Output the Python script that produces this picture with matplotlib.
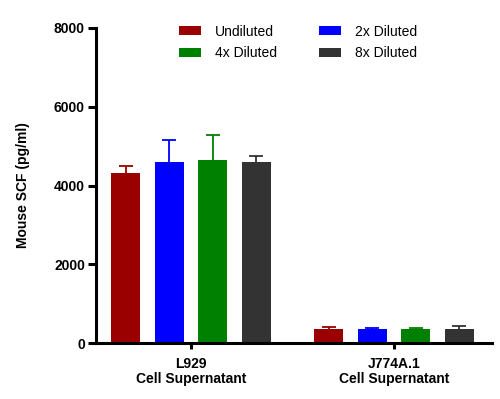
import numpy as np
import matplotlib.pyplot as plt

plt.rcParams['font.family'] = ['Liberation Sans', 'DejaVu Sans']

# data
groups = ['L929\nCell Supernatant', 'J774A.1\nCell Supernatant']
series = ['Undiluted', '2x Diluted', '4x Diluted', '8x Diluted']
undiluted = [4320, 355]
diluted_2x = [4600, 355]
diluted_4x = [4650, 355]
diluted_8x = [4600, 355]
err_undiluted = [180, 50]
err_2x = [560, 30]
err_4x = [630, 35]
err_8x = [140, 75]
colors = ['#9b0000', '#0000ff', '#008000', '#333333']

values = [undiluted, diluted_2x, diluted_4x, diluted_8x]
errors = [err_undiluted, err_2x, err_4x, err_8x]

fig = plt.figure(figsize=(5, 3.99), dpi=100)
ax = fig.add_axes([0.192, 0.140, 0.792, 0.790])

x = np.arange(len(groups))
width = 0.143
offsets = [-1.5, -0.5, 0.5, 1.5]
handles = []
for i in range(4):
    b = ax.bar(x + offsets[i] * 0.214, values[i], width, color=colors[i],
               label=series[i], zorder=2)
    eb = ax.errorbar(x + offsets[i] * 0.214, values[i],
                     yerr=[np.zeros(2), errors[i]], fmt='none', ecolor=colors[i],
                     elinewidth=1.3, capsize=5, capthick=1.3, zorder=1)
    # upper error only: drop the lower caps
    eb[1][0].remove()
    handles.append(b)

ax.set_xlim(-0.468, 1.483)
ax.set_ylim(0, 8000)
ax.set_yticks([0, 2000, 4000, 6000, 8000])
ax.set_xticks(x)
ax.set_xticklabels(groups, fontweight='bold', fontsize=10, linespacing=1.1)
for lbl in ax.get_yticklabels():
    lbl.set_fontweight('bold')
    lbl.set_fontsize(10)
ax.set_ylabel('Mouse SCF (pg/ml)', fontweight='bold', fontsize=10, labelpad=17)

for s in ['top', 'right']:
    ax.spines[s].set_visible(False)
for s in ['left', 'bottom']:
    ax.spines[s].set_linewidth(2.2)
ax.tick_params(axis='y', width=2.2, length=6, pad=2)
ax.tick_params(axis='x', width=2.2, length=4, pad=6)

order = [0, 2, 1, 3]
ax.legend([handles[i] for i in order], [series[i] for i in order], ncol=2,
          frameon=False, loc='upper center', bbox_to_anchor=(0.51, 1.05),
          handlelength=1.6, handleheight=0.6, handletextpad=1.0,
          columnspacing=3.0, labelspacing=0.55, fontsize=10)

fig.savefig('out.png')
